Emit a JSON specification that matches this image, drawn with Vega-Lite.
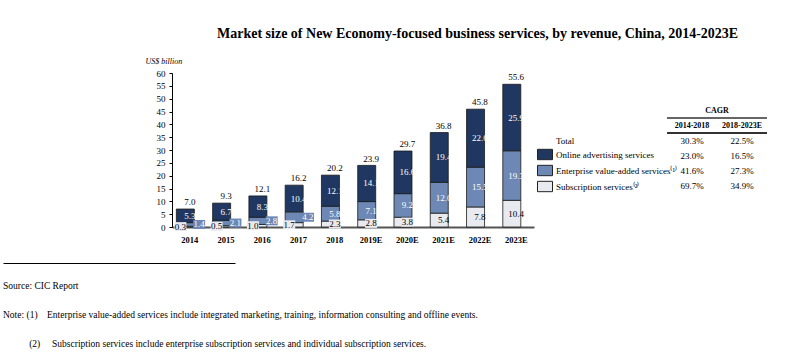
{
  "$schema": "https://vega.github.io/schema/vega-lite/v6.json",
  "padding": {"left": 3, "top": 27, "right": 0, "bottom": 0},
  "autosize": {"type": "pad"},
  "spacing": 19,
  "config": {
    "font": "Liberation Serif",
    "view": {"stroke": null},
    "axis": {"labelColor": "black", "titleColor": "black", "grid": false},
    "axisY": {
      "titleAngle": 0,
      "titleAlign": "left",
      "titleBaseline": "alphabetic",
      "titleFontStyle": "italic",
      "titleFontWeight": "normal",
      "titleFontSize": 8,
      "titleX": -27,
      "titleY": -10,
      "labelFontSize": 9,
      "labelPadding": 4,
      "tickSize": 3,
      "tickColor": "black",
      "domainColor": "black",
      "domainWidth": 1
    },
    "text": {"font": "Liberation Serif", "color": "black"}
  },
  "datasets": {
    "segments": [
      {"year": "2014", "series": "Subscription services", "value": 0.3},
      {"year": "2014", "series": "Enterprise value-added services", "value": 1.4},
      {"year": "2014", "series": "Online advertising services", "value": 5.3},
      {"year": "2015", "series": "Subscription services", "value": 0.5},
      {"year": "2015", "series": "Enterprise value-added services", "value": 2.1},
      {"year": "2015", "series": "Online advertising services", "value": 6.7},
      {"year": "2016", "series": "Subscription services", "value": 1.0},
      {"year": "2016", "series": "Enterprise value-added services", "value": 2.8},
      {"year": "2016", "series": "Online advertising services", "value": 8.3},
      {"year": "2017", "series": "Subscription services", "value": 1.7},
      {"year": "2017", "series": "Enterprise value-added services", "value": 4.2},
      {"year": "2017", "series": "Online advertising services", "value": 10.4},
      {"year": "2018", "series": "Subscription services", "value": 2.3},
      {"year": "2018", "series": "Enterprise value-added services", "value": 5.8},
      {"year": "2018", "series": "Online advertising services", "value": 12.1},
      {"year": "2019E", "series": "Subscription services", "value": 2.8},
      {"year": "2019E", "series": "Enterprise value-added services", "value": 7.1},
      {"year": "2019E", "series": "Online advertising services", "value": 14.1},
      {"year": "2020E", "series": "Subscription services", "value": 3.8},
      {"year": "2020E", "series": "Enterprise value-added services", "value": 9.2},
      {"year": "2020E", "series": "Online advertising services", "value": 16.6},
      {"year": "2021E", "series": "Subscription services", "value": 5.4},
      {"year": "2021E", "series": "Enterprise value-added services", "value": 12.0},
      {"year": "2021E", "series": "Online advertising services", "value": 19.4},
      {"year": "2022E", "series": "Subscription services", "value": 7.8},
      {"year": "2022E", "series": "Enterprise value-added services", "value": 15.5},
      {"year": "2022E", "series": "Online advertising services", "value": 22.6},
      {"year": "2023E", "series": "Subscription services", "value": 10.4},
      {"year": "2023E", "series": "Enterprise value-added services", "value": 19.3},
      {"year": "2023E", "series": "Online advertising services", "value": 25.9}
    ],
    "totals": [
      {"year": "2014", "total": 7.0},
      {"year": "2015", "total": 9.3},
      {"year": "2016", "total": 12.1},
      {"year": "2017", "total": 16.2},
      {"year": "2018", "total": 20.2},
      {"year": "2019E", "total": 23.9},
      {"year": "2020E", "total": 29.7},
      {"year": "2021E", "total": 36.8},
      {"year": "2022E", "total": 45.8},
      {"year": "2023E", "total": 55.6}
    ],
    "cagr": [
      {"row": "Total", "period": "2014-2018", "cagr": 30.3},
      {"row": "Total", "period": "2018-2023E", "cagr": 22.5},
      {"row": "Online advertising services", "period": "2014-2018", "cagr": 23.0},
      {"row": "Online advertising services", "period": "2018-2023E", "cagr": 16.5},
      {"row": "Enterprise value-added services", "period": "2014-2018", "cagr": 41.6},
      {"row": "Enterprise value-added services", "period": "2018-2023E", "cagr": 27.3},
      {"row": "Subscription services", "period": "2014-2018", "cagr": 69.7},
      {"row": "Subscription services", "period": "2018-2023E", "cagr": 34.9}
    ],
    "foot": [
      {"line": "Source", "col": "t", "text": "Source: CIC Report"},
      {"line": "Note1", "col": "t", "text": "Note: (1)\u00a0\u00a0\u00a0\u00a0Enterprise value-added services include integrated marketing, training, information consulting and offline events."},
      {"line": "Note2", "col": "t", "text": "\u200b\u00a0\u00a0\u00a0\u00a0\u00a0\u00a0\u00a0\u00a0\u00a0\u00a0\u00a0(2)\u00a0\u00a0\u00a0\u00a0\u00a0Subscription services include enterprise subscription services and individual subscription services."}
    ]
  },
  "vconcat": [
    {
      "bounds": "flush",
      "spacing": 133,
      "hconcat": [
        {"width": 36, "height": 20, "data": {"values": []}, "mark": "text", "encoding": {}},
        {
          "width": 362,
          "height": 154,
          "title": {
            "text": "Market size of New Economy-focused business services, by revenue, China, 2014-2023E",
            "fontSize": 14,
            "fontWeight": "bold",
            "font": "Liberation Serif",
            "color": "black",
            "anchor": "start",
            "frame": "group",
            "dx": 45,
            "offset": 16
          },
          "encoding": {
            "x": {
              "field": "year",
              "type": "nominal",
              "sort": null,
              "scale": {
                "domain": ["2014", "2015", "2016", "2017", "2018", "2019E", "2020E", "2021E", "2022E", "2023E"],
                "paddingInner": 0.26,
                "paddingOuter": 0.12
              },
              "axis": {
                "title": null,
                "ticks": false,
                "labelAngle": 0,
                "labelFontWeight": "bold",
                "labelFontSize": 8.5,
                "labelPadding": 8,
                "domainColor": "#555555",
                "domainWidth": 2
              }
            }
          },
          "layer": [
            {
              "data": {"name": "segments"},
              "transform": [
                {"calculate": "indexof(['Subscription services','Enterprise value-added services','Online advertising services'], datum.series)", "as": "ord"}
              ],
              "mark": {"type": "bar", "stroke": "#1a1a1a", "strokeWidth": 0.8},
              "encoding": {
                "y": {
                  "field": "value",
                  "type": "quantitative",
                  "stack": "zero",
                  "title": "US$ billion",
                  "scale": {"domain": [0, 60], "nice": false},
                  "axis": {"values": [0, 5, 10, 15, 20, 25, 30, 35, 40, 45, 50, 55, 60]}
                },
                "order": {"field": "ord", "type": "quantitative"},
                "color": {
                  "field": "series",
                  "type": "nominal",
                  "scale": {
                    "domain": ["Total", "Online advertising services", "Enterprise value-added services", "Subscription services"],
                    "range": ["rgba(0,0,0,0)", "#1f3761", "#6d88b4", "#e8eaf0"]
                  },
                  "legend": {
                    "title": null,
                    "orient": "none",
                    "legendX": 534,
                    "legendY": 59.5,
                    "padding": 0,
                    "rowPadding": 0,
                    "symbolType": "M-1,-0.69H1V0.69H-1Z",
                    "symbolSize": 225,
                    "symbolStrokeColor": "#222222",
                    "symbolStrokeWidth": 1,
                    "labelFontSize": 9,
                    "labelColor": "black",
                    "labelOffset": 3,
                    "labelLimit": 200,
                    "labelExpr": "datum.value == 'Enterprise value-added services' ? datum.label + '⁽¹⁾' : datum.value == 'Subscription services' ? datum.label + '⁽²⁾' : datum.label",
                    "encode": {"symbols": {"update": {"strokeOpacity": {"signal": "datum.value === 'Total' ? 0 : 1"}}}}
                  }
                }
              }
            },
            {
              "data": {"name": "segments"},
              "transform": [
                {"calculate": "indexof(['Subscription services','Enterprise value-added services','Online advertising services'], datum.series)", "as": "ord"},
                {"stack": "value", "groupby": ["year"], "sort": [{"field": "ord"}], "as": ["v0", "v1"]},
                {"calculate": "(datum.v0 + datum.v1) / 2", "as": "mid"},
                {"calculate": "datum.series == 'Subscription services' && datum.value < 2 ? 'left' : (datum.series == 'Enterprise value-added services' && datum.value < 5 ? 'right' : 'center')", "as": "side"},
                {"filter": "datum.value < 5 && datum.series != 'Online advertising services'"}
              ],
              "mark": {"type": "point", "filled": true, "shape": "M-1,-0.75H1V0.75H-1Z", "size": 144, "opacity": 1, "strokeWidth": 0},
              "encoding": {
                "y": {"field": "mid", "type": "quantitative", "title": "US$ billion", "axis": {"values": [0, 5, 10, 15, 20, 25, 30, 35, 40, 45, 50, 55, 60]}},
                "xOffset": {"field": "side", "type": "nominal", "scale": {"domain": ["left", "center", "right"], "paddingInner": 0, "paddingOuter": 0.43}},
                "color": {"condition": {"test": "datum.series == 'Subscription services'", "value": "#e8eaf0"}, "value": "#6d88b4"}
              }
            },
            {
              "data": {"name": "segments"},
              "transform": [
                {"calculate": "indexof(['Subscription services','Enterprise value-added services','Online advertising services'], datum.series)", "as": "ord"},
                {"stack": "value", "groupby": ["year"], "sort": [{"field": "ord"}], "as": ["v0", "v1"]},
                {"calculate": "(datum.v0 + datum.v1) / 2", "as": "mid"},
                {"calculate": "datum.series == 'Subscription services' && datum.value < 2 ? 'left' : (datum.series == 'Enterprise value-added services' && datum.value < 5 ? 'right' : 'center')", "as": "side"}
              ],
              "mark": {"type": "text", "fontSize": 9, "baseline": "middle"},
              "encoding": {
                "y": {"field": "mid", "type": "quantitative", "title": "US$ billion", "axis": {"values": [0, 5, 10, 15, 20, 25, 30, 35, 40, 45, 50, 55, 60]}},
                "xOffset": {"field": "side", "type": "nominal", "scale": {"domain": ["left", "center", "right"], "paddingInner": 0, "paddingOuter": 0.43}},
                "text": {"field": "value", "type": "quantitative", "format": ".1f"},
                "color": {"condition": {"test": "datum.series == 'Subscription services'", "value": "black"}, "value": "white"}
              }
            },
            {
              "data": {"name": "totals"},
              "mark": {"type": "text", "fontSize": 9, "baseline": "bottom", "dy": -2, "color": "black"},
              "encoding": {
                "y": {"field": "total", "type": "quantitative", "title": "US$ billion", "axis": {"values": [0, 5, 10, 15, 20, 25, 30, 35, 40, 45, 50, 55, 60]}},
                "text": {"field": "total", "type": "quantitative", "format": ".1f"}
              }
            }
          ]
        },
        {
          "width": 100,
          "height": 120,
          "layer": [
            {
              "data": {"values": [{"row": "CAGR"}, {"row": "Period"}]},
              "mark": {"type": "rule", "color": "#333333"},
              "encoding": {
                "y": {
                  "field": "row",
                  "type": "nominal",
                  "bandPosition": 1,
                  "scale": {"type": "band", "domain": ["CAGR", "Period", "Total", "Online advertising services", "Enterprise value-added services", "Subscription services"], "paddingInner": 0, "paddingOuter": 1, "align": 1},
                  "axis": null
                },
                "strokeWidth": {"condition": {"test": "datum.row == 'Period'", "value": 2}, "value": 1.3}
              }
            },
            {
              "data": {"values": [{"row": "CAGR", "text": "CAGR"}]},
              "mark": {"type": "text", "fontWeight": "bold", "fontSize": 8, "baseline": "middle"},
              "encoding": {
                "y": {
                  "field": "row",
                  "type": "nominal",
                  "scale": {"type": "band", "domain": ["CAGR", "Period", "Total", "Online advertising services", "Enterprise value-added services", "Subscription services"], "paddingInner": 0, "paddingOuter": 1, "align": 1},
                  "axis": null
                },
                "text": {"field": "text"}
              }
            },
            {
              "data": {"values": [{"row": "Period", "period": "2014-2018"}, {"row": "Period", "period": "2018-2023E"}]},
              "mark": {"type": "text", "fontWeight": "bold", "fontSize": 8, "baseline": "middle"},
              "encoding": {
                "x": {"field": "period", "type": "nominal", "scale": {"type": "band", "domain": ["2014-2018", "2018-2023E"], "paddingInner": 0, "paddingOuter": 0}, "axis": null},
                "y": {
                  "field": "row",
                  "type": "nominal",
                  "scale": {"type": "band", "domain": ["CAGR", "Period", "Total", "Online advertising services", "Enterprise value-added services", "Subscription services"], "paddingInner": 0, "paddingOuter": 1, "align": 1},
                  "axis": null
                },
                "text": {"field": "period"}
              }
            },
            {
              "data": {"name": "cagr"},
              "transform": [{"calculate": "format(datum.cagr, '.1f') + '%'", "as": "label"}],
              "mark": {"type": "text", "fontSize": 9, "baseline": "middle"},
              "encoding": {
                "x": {"field": "period", "type": "nominal", "scale": {"type": "band", "domain": ["2014-2018", "2018-2023E"], "paddingInner": 0, "paddingOuter": 0}, "axis": null},
                "y": {
                  "field": "row",
                  "type": "nominal",
                  "scale": {"type": "band", "domain": ["CAGR", "Period", "Total", "Online advertising services", "Enterprise value-added services", "Subscription services"], "paddingInner": 0, "paddingOuter": 1, "align": 1},
                  "axis": null
                },
                "text": {"field": "label"}
              }
            }
          ]
        }
      ]
    },
    {
      "width": 232,
      "height": 104,
      "data": {"name": "foot"},
      "mark": {"type": "text", "align": "left", "baseline": "middle", "fontSize": 9.5, "color": "black"},
      "encoding": {
        "x": {
          "field": "col",
          "type": "nominal",
          "scale": {"type": "point", "padding": 0, "align": 0},
          "axis": {"orient": "top", "labels": false, "ticks": false, "title": null, "domainColor": "black", "domainWidth": 1}
        },
        "y": {
          "field": "line",
          "type": "nominal",
          "scale": {"type": "point", "domain": ["Source", "Note1", "Note2"], "padding": 0.79},
          "axis": null
        },
        "text": {"field": "text"}
      }
    }
  ]
}
